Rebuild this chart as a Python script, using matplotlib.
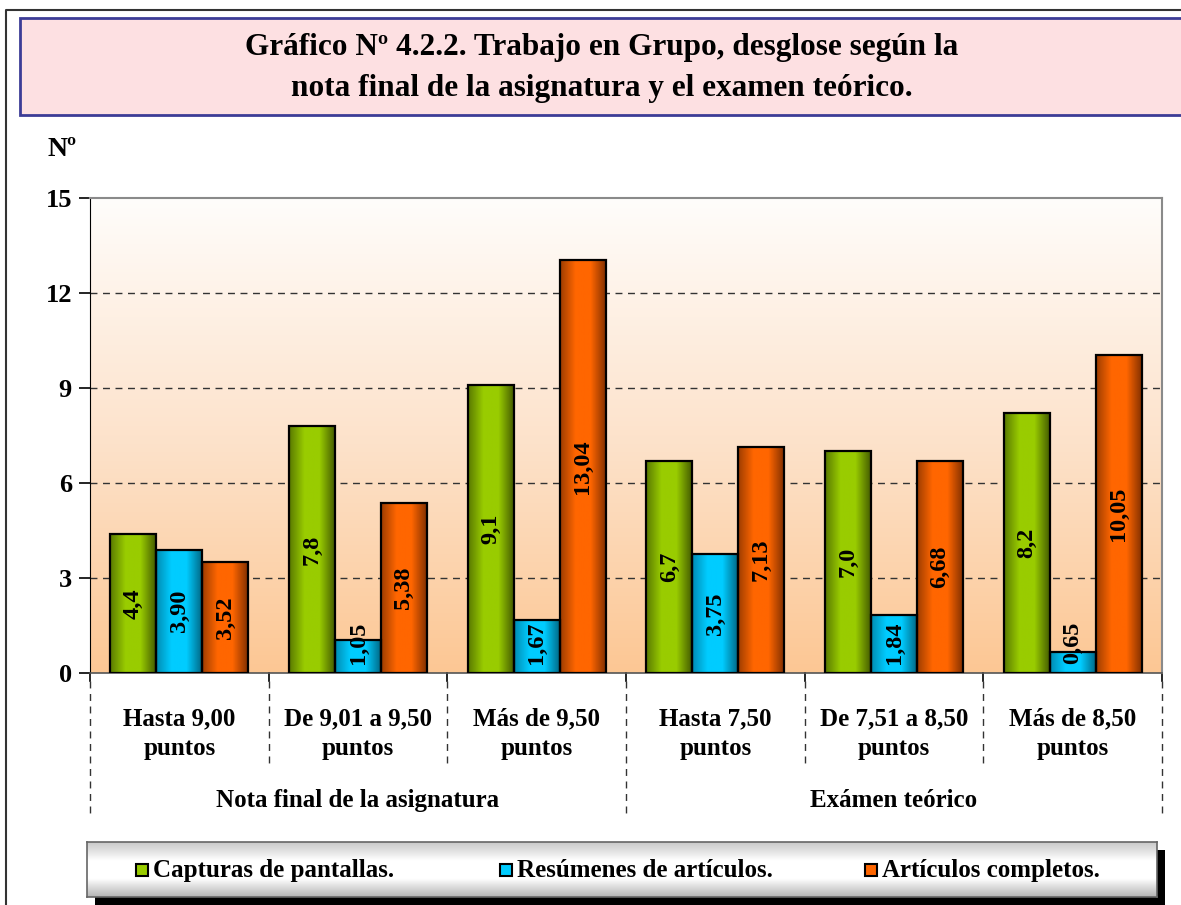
import numpy as np
import matplotlib
matplotlib.use('Agg')
import matplotlib.pyplot as plt
from matplotlib.colors import LinearSegmentedColormap
from matplotlib.patches import Rectangle
from matplotlib.lines import Line2D

plt.rcParams['font.family'] = ['Liberation Serif', 'DejaVu Serif']
plt.rcParams['font.weight'] = 'bold'

# datos
categorias = ['Hasta 9,00\npuntos', 'De 9,01 a 9,50\npuntos', 'Más de 9,50\npuntos',
              'Hasta 7,50\npuntos', 'De 7,51 a 8,50\npuntos', 'Más de 8,50\npuntos']
grupos = ['Nota final de la asignatura', 'Exámen teórico']
series = ['Capturas de pantallas.', 'Resúmenes de artículos.', 'Artículos completos.']
capturas = [4.4, 7.8, 9.1, 6.7, 7.0, 8.2]
resumenes = [3.90, 1.05, 1.67, 3.75, 1.84, 0.65]
completos = [3.52, 5.38, 13.04, 7.13, 6.68, 10.05]
etiq_capturas = ['4,4', '7,8', '9,1', '6,7', '7,0', '8,2']
etiq_resumenes = ['3,90', '1,05', '1,67', '3,75', '1,84', '0,65']
etiq_completos = ['3,52', '5,38', '13,04', '7,13', '6,68', '10,05']
yticks = [0, 3, 6, 9, 12, 15]

W, H = 1181, 905
fig = plt.figure(figsize=(W / 100, H / 100), dpi=100)

def fx(x):
    return x / W

def fy(y):
    return 1 - y / H

# marco exterior
fig.add_artist(Line2D([fx(6), fx(6), fx(1181)], [fy(905), fy(10), fy(10)],
                      color='#333333', lw=1.5))

# caja del titulo
fig.add_artist(Rectangle((fx(20), fy(115)), fx(1181 - 20 + 10), (115 - 18) / H,
                         facecolor='#fde0e2', edgecolor='#3c3c96', lw=2))
fig.text(fx(602), fy(68), 'Gráfico Nº 4.2.2. Trabajo en Grupo, desglose según la\n'
         'nota final de la asignatura y el examen teórico.',
         ha='center', va='center', fontsize=22.5, weight='bold', linespacing=1.55)

fig.text(fx(47), fy(150), 'Nº', ha='left', va='center', fontsize=20, weight='bold')

ax = fig.add_axes([fx(90), fy(673), (1162 - 90) / W, (673 - 198) / H])
ax.set_xlim(-0.5, 5.5)
ax.set_ylim(0, 15)

# fondo degradado
fondo = LinearSegmentedColormap.from_list('fondo', ['#fcc794', '#fde3cc', '#fffdfb'])
ax.imshow(np.linspace(0, 1, 256).reshape(-1, 1), cmap=fondo, aspect='auto',
          extent=(-0.5, 5.5, 0, 15), origin='lower', zorder=0)

for y in yticks[1:-1]:
    ax.axhline(y, color='#333333', lw=1, dashes=(5, 4), zorder=1)

cmaps = [
    LinearSegmentedColormap.from_list('g', ['#5a7a00', '#99cc00', '#99cc00', '#465e00'], N=64),
    LinearSegmentedColormap.from_list('b', ['#008cb3', '#00ccff', '#00ccff', '#006a88'], N=64),
    LinearSegmentedColormap.from_list('o', ['#9e3d00', '#ff6600', '#ff6600', '#853100'], N=64),
]
datos = [capturas, resumenes, completos]
etiquetas = [etiq_capturas, etiq_resumenes, etiq_completos]
x = np.arange(len(categorias))
ancho = 0.257
grad = np.linspace(0, 1, 64).reshape(1, -1)

for i, (vals, cm, etq) in enumerate(zip(datos, cmaps, etiquetas)):
    pos = x + (i - 1) * ancho
    barras = ax.bar(pos, vals, ancho, facecolor='none', edgecolor='black', lw=1.6, zorder=3)
    for b, v, t in zip(barras, vals, etq):
        im = ax.imshow(grad, cmap=cm, aspect='auto', zorder=2,
                       extent=(b.get_x(), b.get_x() + ancho, 0, v))
        im.set_clip_path(b)
        # la etiqueta no baja del eje
        yc = max(v / 2, 0.95)
        ax.text(b.get_x() + ancho / 2, yc, t, rotation=90, ha='center', va='center',
                fontsize=17.5, weight='bold', zorder=4)

ax.set_xlim(-0.5, 5.5)
ax.set_ylim(0, 15)
ax.set_yticks(yticks)
ax.set_yticklabels([str(v) for v in yticks], fontsize=19, weight='bold')
ax.tick_params(axis='y', direction='out', length=8, width=1.2, pad=5)
ax.set_xticks([])
for s in ['top', 'right']:
    ax.spines[s].set_color('#8a8a8a')
    ax.spines[s].set_linewidth(1.5)
ax.spines['left'].set_color('black')
ax.spines['bottom'].set_color('#555555')
ax.spines['bottom'].set_linewidth(1.2)

# eje x de dos niveles
tr = ax.get_xaxis_transform()
for c, lab in zip(x, categorias):
    ax.text(c, -0.128, lab, transform=tr, ha='center', va='center',
            fontsize=18, weight='bold', linespacing=1.35)
for g, lab in zip([1, 4], grupos):
    ax.text(g, -0.268, lab, transform=tr, ha='center', va='center',
            fontsize=18, weight='bold')
for b in np.arange(-0.5, 6, 1.0):
    largo = b in (-0.5, 2.5, 5.5)
    ax.add_line(Line2D([b, b], [0, -0.016], transform=tr, color='black', lw=1.2, clip_on=False))
    ax.add_line(Line2D([b, b], [-0.016, -0.305 if largo else -0.19], transform=tr,
                       color='#333333', lw=1, dashes=(5, 4), clip_on=False))

# leyenda
fig.add_artist(Rectangle((fx(95), fy(905)), (1165 - 95) / W, (905 - 850) / H,
                         facecolor='black', edgecolor='none', zorder=0.5))
lax = fig.add_axes([fx(87), fy(897), (1157 - 87) / W, (897 - 842) / H])
lax.set_zorder(3)
gris = LinearSegmentedColormap.from_list('gris', ['#b5b5b5', '#ffffff', '#ffffff', '#c9c9c9'])
lax.imshow(np.linspace(0, 1, 64).reshape(-1, 1), cmap=gris, aspect='auto',
           extent=(0, 1, 0, 1), origin='lower')
lax.set_xlim(0, 1)
lax.set_ylim(0, 1)
lax.set_xticks([])
lax.set_yticks([])
for s in lax.spines.values():
    s.set_color('#666666')
    s.set_linewidth(1.2)
colores = ['#99cc00', '#00ccff', '#ff6600']
xs = [136, 500, 865]
for px, col, lab in zip(xs, colores, series):
    x0 = (px - 87) / 1070
    lax.add_patch(Rectangle((x0, 0.38), 12 / 1070, 12 / 55, facecolor=col,
                            edgecolor='black', lw=1.5))
    lax.text(x0 + 17 / 1070, 0.48, lab, ha='left', va='center', fontsize=18, weight='bold')

fig.savefig('out.png', dpi=100)
